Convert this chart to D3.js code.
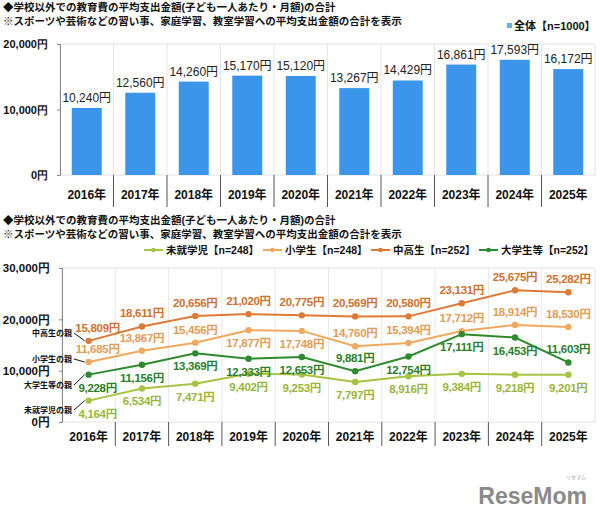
<!DOCTYPE html>
<html><head><meta charset="utf-8">
<script src="https://cdn.jsdelivr.net/npm/d3@7"></script>
<style>
body{margin:0;background:#fff;}
svg{font-family:"Liberation Sans","Noto Sans CJK JP",sans-serif;}
</style></head>
<body><svg id="c" width="600" height="524"></svg>
<script>
const years = ["2016年","2017年","2018年","2019年","2020年","2021年","2022年","2023年","2024年","2025年"];
const totalValues = [10240,12560,14260,15170,15120,13267,14429,16861,17593,16172];
const preschool = [4164,6534,7471,9402,9253,7797,8916,9384,9218,9201];
const elementary = [11685,13867,15456,17877,17748,14760,15394,17712,18914,18530];
const juniorHigh = [15809,18611,20656,21020,20775,20569,20580,23131,25675,25282];
const university = [9228,11156,13369,12333,12653,9881,12754,17111,16453,11603];
const topTicks = [0,10000,20000];
const bottomTicks = [0,10000,20000,30000];
const seriesNames = ["未就学児【n=248】","小学生【n=248】","中高生【n=252】","大学生等【n=252】"];
const sideLabels = ["未就学児の親","小学生の親","大学生等の親","中高生の親"];
const titles = ["◆学校以外での教育費の平均支出金額(子ども一人あたり・月額)の合計","※スポーツや芸術などの習い事、家庭学習、教室学習への平均支出金額の合計を表示"];

const svg = d3.select("#c");
const fmt = d3.format(",");

function drawTitles(y0){
  svg.append("text").attr("x",3).attr("y",y0).attr("font-size",10.5).attr("font-weight","bold").attr("fill","#111").text(titles[0]);
  svg.append("text").attr("x",3).attr("y",y0+14).attr("font-size",10.5).attr("font-weight","bold").attr("fill","#111").text(titles[1]);
}
drawTitles(11);
drawTitles(224);

// ---------- Top bar chart ----------
const tL=60,tR=595,tT=44,tB=175;
const xT = d3.scaleBand().domain(years).range([tL,tR]);
const yT = d3.scaleLinear().domain([0,20000]).range([tB,tT]);
const gT = svg.append("g");
gT.append("rect").attr("x",tL).attr("y",tT).attr("width",tR-tL).attr("height",tB-tT).attr("fill","none").attr("stroke","#e2e2e2");
years.forEach((y,i)=>{ if(i>0){
  gT.append("line").attr("x1",xT(y)).attr("x2",xT(y)).attr("y1",tT).attr("y2",tB).attr("stroke","#e6e6e6");
  gT.append("line").attr("x1",xT(y)).attr("x2",xT(y)).attr("y1",tB).attr("y2",tB+32).attr("stroke","#555");
}});
const bw = xT.bandwidth()*0.56;
gT.selectAll(".bar").data(totalValues).join("rect")
  .attr("x",(d,i)=>xT(years[i])+xT.bandwidth()/2-bw/2).attr("width",bw)
  .attr("y",d=>yT(d)).attr("height",d=>tB-yT(d)).attr("fill","#3b95ea");
gT.selectAll(".bl").data(totalValues).join("text")
  .attr("x",(d,i)=>xT(years[i])+xT.bandwidth()/2).attr("y",d=>yT(d)-6)
  .attr("text-anchor","middle").attr("font-size",12).attr("fill","#222").text(d=>fmt(d)+"円");
const axT = d3.axisLeft(yT).tickValues(topTicks).tickSize(3).tickFormat(d=>fmt(d)+"円");
const axTg = svg.append("g").attr("transform",`translate(${tL},0)`).call(axT);
axTg.select(".domain").attr("stroke","#888");
axTg.selectAll(".tick line").attr("stroke","#888");
axTg.selectAll(".tick text").attr("font-size",11).attr("font-weight","bold").attr("fill","#111").attr("x",-12);
gT.selectAll(".yr").data(years).join("text")
  .attr("x",d=>xT(d)+xT.bandwidth()/2).attr("y",tB+24).attr("text-anchor","middle")
  .attr("font-size",12).attr("font-weight","bold").attr("fill","#111").text(d=>d);
svg.append("rect").attr("x",507).attr("y",23).attr("width",5).attr("height",5).attr("fill","#6aaee8");
svg.append("text").attr("x",514).attr("y",30).attr("font-size",11).attr("font-weight","bold").attr("fill","#111").text("全体【n=1000】");

// ---------- Bottom line chart ----------
const bL=62,bR=595,bT=268,bB=422;
const xB = d3.scaleBand().domain(years).range([bL,bR]);
const yB = d3.scaleLinear().domain([0,30000]).range([bB,bT]);
const gB = svg.append("g");
gB.append("rect").attr("x",bL).attr("y",bT).attr("width",bR-bL).attr("height",bB-bT).attr("fill","none").attr("stroke","#e2e2e2");
years.forEach((y,i)=>{ if(i>0){
  gB.append("line").attr("x1",xB(y)).attr("x2",xB(y)).attr("y1",bT).attr("y2",bB).attr("stroke","#e8e8e8");
  gB.append("line").attr("x1",xB(y)).attr("x2",xB(y)).attr("y1",bB).attr("y2",bB+24).attr("stroke","#555");
}});
const axB = d3.axisLeft(yB).tickValues(bottomTicks).tickSize(3).tickFormat(d=>fmt(d)+"円");
const axBg = svg.append("g").attr("transform",`translate(${bL},0)`).call(axB);
axBg.select(".domain").attr("stroke","#888");
axBg.selectAll(".tick line").attr("stroke","#888");
axBg.selectAll(".tick text").attr("font-size",11.5).attr("font-weight","bold").attr("fill","#111").attr("x",-12);
gB.selectAll(".yr").data(years).join("text")
  .attr("x",d=>xB(d)+xB.bandwidth()/2).attr("y",bB+19).attr("text-anchor","middle")
  .attr("font-size",12).attr("font-weight","bold").attr("fill","#111").text(d=>d);

const cx = i=>xB(years[i])+xB.bandwidth()/2;
const series = [
  {vals:preschool, color:"#a5c441", lab:"#9ab53a", pos:[1,1,1,1,1,1,1,1,1,1]},
  {vals:elementary, color:"#f0a95e", lab:"#e39c55", pos:[-1,-1,-1,1,1,-1,-1,-1,-1,-1]},
  {vals:juniorHigh, color:"#dd7a36", lab:"#d0712f", pos:[-1,-1,-1,-1,-1,-1,-1,-1,-1,-1]},
  {vals:university, color:"#2e8a2e", lab:"#2a7f2a", pos:[1,1,1,1,1,-1,1,1,1,-1]}
];
const line = d3.line().x((d,i)=>cx(i)).y(d=>yB(d));
series.forEach(s=>{
  gB.append("path").attr("d",line(s.vals)).attr("fill","none").attr("stroke",s.color).attr("stroke-width",2);
  gB.selectAll(null).data(s.vals).join("circle").attr("cx",(d,i)=>cx(i)).attr("cy",d=>yB(d)).attr("r",3.2).attr("fill",s.color);
  gB.selectAll(null).data(s.vals).join("text")
    .attr("x",(d,i)=>cx(i)+(i===0?9:0))
    .attr("y",(d,i)=>yB(d)+(s.pos[i]<0?-9:17))
    .attr("text-anchor","middle").attr("font-size",11.5).attr("font-weight","bold").attr("letter-spacing",-0.3).attr("fill",s.lab)
    .text(d=>fmt(d)+"円");
});
const sideOrder=[preschool,elementary,university,juniorHigh];
const sideY=[413,362,388,336];
sideLabels.forEach((t,k)=>{
  svg.append("text").attr("x",72).attr("y",sideY[k]).attr("text-anchor","end")
    .attr("font-size",8).attr("font-weight","bold").attr("fill","#111").text(t);
  const px=cx(0)-4, py=yB(sideOrder[k][0]);
  svg.append("line").attr("x1",74).attr("y1",sideY[k]-3).attr("x2",px).attr("y2",py)
    .attr("stroke","#111").attr("stroke-width",1);
});
const legX=[144,263,371,479];
seriesNames.forEach((n,k)=>{
  const c=series[k].color;
  svg.append("line").attr("x1",legX[k]).attr("x2",legX[k]+19).attr("y1",250).attr("y2",250).attr("stroke",c).attr("stroke-width",2);
  svg.append("circle").attr("cx",legX[k]+9.5).attr("cy",250).attr("r",2.3).attr("fill",c);
  svg.append("text").attr("x",legX[k]+22).attr("y",254).attr("font-size",10.5).attr("font-weight","bold").attr("fill","#111").text(n);
});
svg.append("text").attr("x",587).attr("y",504).attr("text-anchor","end").attr("font-size",23).attr("font-weight","bold").attr("fill","#8a8a8a").attr("font-family","Liberation Sans, sans-serif").text("ReseMom");
svg.append("text").attr("x",576).attr("y",479).attr("text-anchor","middle").attr("font-size",5).attr("fill","#999").text("リセマム");
</script></body></html>
